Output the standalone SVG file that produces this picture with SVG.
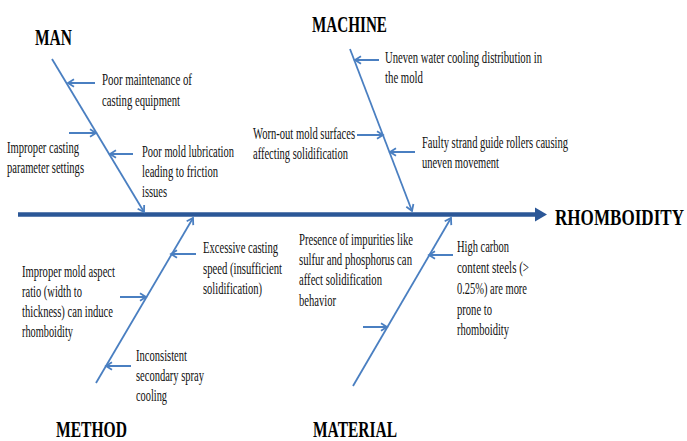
<svg xmlns="http://www.w3.org/2000/svg" width="687" height="441" viewBox="0 0 687 441">
  <style>
    .bg { fill: #ffffff; }
    .spine { stroke: #2B5797; stroke-width: 4.5; fill: none; }
    .bone { stroke: #4A7FC1; stroke-width: 1.8; fill: none; marker-end: url(#vhead); }
    .rib { stroke: #4A7FC1; stroke-width: 2; fill: none; marker-end: url(#vhead); }
    .head { font-family: "Liberation Serif", "Times New Roman", serif; font-weight: bold; font-size: 23px; fill: #000; }
    .txt { font-family: "Liberation Serif", "Times New Roman", serif; font-size: 16px; fill: #111; }
  </style>
  <defs>
    <marker id="vhead" markerUnits="userSpaceOnUse" markerWidth="10" markerHeight="10" viewBox="0 0 10 10" refX="8" refY="5" orient="auto">
      <path d="M2,1.2 L8,5 L2,8.8" fill="none" stroke="#4A7FC1" stroke-width="1.8"/>
    </marker>
  </defs>
  <rect class="bg" x="0" y="0" width="687" height="441"/>

  <!-- main spine with effect arrow -->
  <g id="connectors">
    <line class="spine" x1="18" y1="214.5" x2="538" y2="214.5"/>
    <polygon points="535,207.5 547,214.5 535,221.5" fill="#2B5797"/>

    <!-- category bones -->
    <line class="bone" x1="52" y1="59" x2="144" y2="212"/>
    <line class="bone" x1="350" y1="49" x2="412" y2="211"/>
    <line class="bone" x1="96" y1="383" x2="193" y2="218"/>
    <line class="bone" x1="353" y1="386" x2="451" y2="218"/>

    <!-- cause ribs -->
    <line class="rib" x1="95" y1="83" x2="68" y2="83"/>
    <line class="rib" x1="69" y1="133" x2="96" y2="133"/>
    <line class="rib" x1="133" y1="154" x2="110" y2="154"/>

    <line class="rib" x1="379" y1="60" x2="355" y2="60"/>
    <line class="rib" x1="357" y1="135" x2="383" y2="135"/>
    <line class="rib" x1="415" y1="152" x2="390" y2="152"/>

    <line class="rib" x1="196" y1="254" x2="171" y2="254"/>
    <line class="rib" x1="120" y1="297" x2="146" y2="297"/>
    <line class="rib" x1="131" y1="366" x2="106" y2="366"/>

    <line class="rib" x1="453" y1="255" x2="429" y2="255"/>
    <line class="rib" x1="363" y1="327" x2="387" y2="327"/>
  </g>

  <g id="effect">
    <text class="head" x="555" y="225" textLength="129" lengthAdjust="spacingAndGlyphs">RHOMBOIDITY</text>
  </g>

  <g id="man">
    <text class="head" x="35" y="45" textLength="37" lengthAdjust="spacingAndGlyphs">MAN</text>
    <text class="txt" x="102" y="85" textLength="90" lengthAdjust="spacingAndGlyphs">Poor maintenance of</text>
    <text class="txt" x="102" y="106" textLength="78" lengthAdjust="spacingAndGlyphs">casting equipment</text>
    <text class="txt" x="7" y="153" textLength="72" lengthAdjust="spacingAndGlyphs">Improper casting</text>
    <text class="txt" x="7" y="173" textLength="77" lengthAdjust="spacingAndGlyphs">parameter settings</text>
    <text class="txt" x="142" y="157" textLength="92" lengthAdjust="spacingAndGlyphs">Poor mold lubrication</text>
    <text class="txt" x="142" y="177" textLength="76" lengthAdjust="spacingAndGlyphs">leading to friction</text>
    <text class="txt" x="142" y="197" textLength="25" lengthAdjust="spacingAndGlyphs">issues</text>
  </g>

  <g id="machine">
    <text class="head" x="312" y="32" textLength="75" lengthAdjust="spacingAndGlyphs">MACHINE</text>
    <text class="txt" x="385" y="63" textLength="157" lengthAdjust="spacingAndGlyphs">Uneven water cooling distribution in</text>
    <text class="txt" x="385" y="83" textLength="38" lengthAdjust="spacingAndGlyphs">the mold</text>
    <text class="txt" x="253" y="139" textLength="102" lengthAdjust="spacingAndGlyphs">Worn-out mold surfaces</text>
    <text class="txt" x="253" y="159" textLength="95" lengthAdjust="spacingAndGlyphs">affecting solidification</text>
    <text class="txt" x="422" y="148" textLength="146" lengthAdjust="spacingAndGlyphs">Faulty strand guide rollers causing</text>
    <text class="txt" x="422" y="168" textLength="77" lengthAdjust="spacingAndGlyphs">uneven movement</text>
  </g>

  <g id="method">
    <text class="head" x="56" y="437" textLength="71" lengthAdjust="spacingAndGlyphs">METHOD</text>
    <text class="txt" x="203" y="253" textLength="75" lengthAdjust="spacingAndGlyphs">Excessive casting</text>
    <text class="txt" x="203" y="274" textLength="79" lengthAdjust="spacingAndGlyphs">speed (insufficient</text>
    <text class="txt" x="203" y="294" textLength="59" lengthAdjust="spacingAndGlyphs">solidification)</text>
    <text class="txt" x="22" y="277" textLength="93" lengthAdjust="spacingAndGlyphs">Improper mold aspect</text>
    <text class="txt" x="22" y="297" textLength="60" lengthAdjust="spacingAndGlyphs">ratio (width to</text>
    <text class="txt" x="22" y="317" textLength="91" lengthAdjust="spacingAndGlyphs">thickness) can induce</text>
    <text class="txt" x="22" y="337" textLength="51" lengthAdjust="spacingAndGlyphs">rhomboidity</text>
    <text class="txt" x="136" y="361" textLength="51" lengthAdjust="spacingAndGlyphs">Inconsistent</text>
    <text class="txt" x="136" y="381" textLength="68" lengthAdjust="spacingAndGlyphs">secondary spray</text>
    <text class="txt" x="136" y="401" textLength="31" lengthAdjust="spacingAndGlyphs">cooling</text>
  </g>

  <g id="material">
    <text class="head" x="313" y="437" textLength="84" lengthAdjust="spacingAndGlyphs">MATERIAL</text>
    <text class="txt" x="299" y="245" textLength="114" lengthAdjust="spacingAndGlyphs">Presence of impurities like</text>
    <text class="txt" x="299" y="265" textLength="113" lengthAdjust="spacingAndGlyphs">sulfur and phosphorus can</text>
    <text class="txt" x="299" y="285" textLength="83" lengthAdjust="spacingAndGlyphs">affect solidification</text>
    <text class="txt" x="299" y="306" textLength="37" lengthAdjust="spacingAndGlyphs">behavior</text>
    <text class="txt" x="457" y="252" textLength="52" lengthAdjust="spacingAndGlyphs">High carbon</text>
    <text class="txt" x="457" y="273" textLength="72" lengthAdjust="spacingAndGlyphs">content steels (&gt;</text>
    <text class="txt" x="457" y="294" textLength="70" lengthAdjust="spacingAndGlyphs">0.25%) are more</text>
    <text class="txt" x="457" y="315" textLength="35" lengthAdjust="spacingAndGlyphs">prone to</text>
    <text class="txt" x="457" y="335" textLength="52" lengthAdjust="spacingAndGlyphs">rhomboidity</text>
  </g>
</svg>
